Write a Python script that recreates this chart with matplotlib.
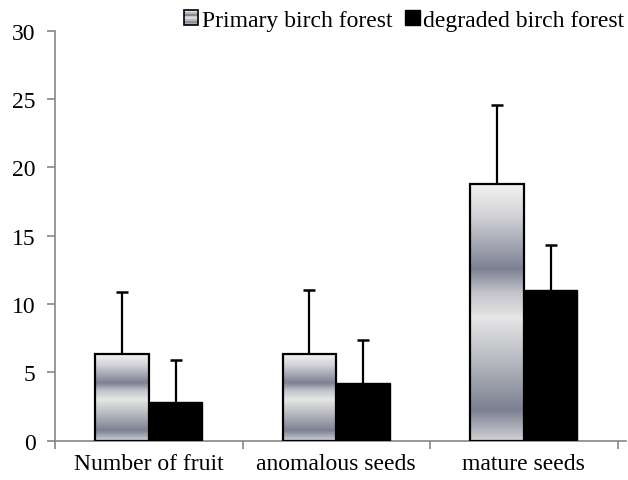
import numpy as np
import matplotlib
matplotlib.use("Agg")
import matplotlib.pyplot as plt
from matplotlib.colors import LinearSegmentedColormap
from matplotlib.patches import Rectangle
from matplotlib.legend_handler import HandlerBase

categories = ["Number of fruit", "anomalous seeds", "mature seeds"]
primary = [6.35, 6.35, 18.75]
primary_err = [4.55, 4.7, 5.85]
degraded = [2.8, 4.2, 11.05]
degraded_err = [3.1, 3.2, 3.25]
series_names = ["Primary birch forest", "degraded birch forest"]

plt.rcParams["font.family"] = "serif"
plt.rcParams["font.serif"] = ["Liberation Serif", "TeX Gyre Termes", "DejaVu Serif"]
plt.rcParams["font.size"] = 17

# excel-like banded grey gradient, top -> bottom
grad_cmap = LinearSegmentedColormap.from_list("birch", [
    (0.0, "#f2f2f2"), (0.12, "#d4d4d8"), (0.33, "#7c8092"), (0.42, "#c2c3ca"),
    (0.52, "#e6e6e6"), (0.70, "#b4b6be"), (0.88, "#7c8092"), (1.0, "#d2d2d6")])
grad = np.linspace(0, 1, 256).reshape(-1, 1)


class GradHandler(HandlerBase):
    def create_artists(self, legend, orig_handle, xdescent, ydescent,
                       width, height, fontsize, trans):
        s = min(width, height)
        x0 = xdescent + (width - s) / 2
        y0 = -ydescent + (height - s) / 2
        arts = []
        n = 8
        for i in range(n):
            c = grad_cmap(1 - (i + 0.5) / n)
            arts.append(Rectangle((x0, y0 + i * s / n), s, s / n, facecolor=c,
                                  edgecolor="none", transform=trans))
        arts.append(Rectangle((x0, y0), s, s, facecolor="none", edgecolor="black",
                              lw=1.2, transform=trans))
        return arts


class SquareHandler(HandlerBase):
    def create_artists(self, legend, orig_handle, xdescent, ydescent,
                       width, height, fontsize, trans):
        s = min(width, height)
        x0 = xdescent + (width - s) / 2
        y0 = -ydescent + (height - s) / 2
        return [Rectangle((x0, y0), s, s, facecolor="black", edgecolor="black",
                          transform=trans)]


fig = plt.figure(figsize=(6.28, 4.81), dpi=100)
ax = fig.add_axes([55 / 628, 1 - 441.7 / 481, 571 / 628, 410 / 481])

x = np.arange(len(categories))
w = 0.286

b1 = ax.bar(x - w / 2, primary, w, facecolor="none", edgecolor="black", lw=1.6, zorder=3)
for rect in b1:
    x0 = rect.get_x()
    h = rect.get_height()
    im = ax.imshow(grad, cmap=grad_cmap, extent=[x0, x0 + w, 0, h], origin="upper",
                   aspect="auto", zorder=2, interpolation="bilinear")
    im.set_clip_path(rect)
b2 = ax.bar(x + w / 2, degraded, w, color="black", edgecolor="black", zorder=3)

# upper error bars only
for xs, vals, errs in [(x - w / 2, primary, primary_err), (x + w / 2, degraded, degraded_err)]:
    tops = np.array(vals) + np.array(errs)
    ax.vlines(xs, vals, tops, color="black", lw=1.6, zorder=1)
    ax.hlines(tops, xs - 0.032, xs + 0.032, color="black", lw=1.8, zorder=1)

ax.set_xlim(-0.5, 2.545)
ax.set_ylim(0, 30)
ax.set_yticks(range(0, 31, 5))
ax.set_xticks([-0.5, 0.5, 1.5, 2.5])
ax.set_xticklabels([])
ax.set_xticks(x, minor=True)
ax.set_xticklabels(categories, minor=True)
ax.tick_params(axis="x", which="minor", length=0, pad=9)
ax.tick_params(axis="x", which="major", length=6, color="#868686", width=1.2)
ax.tick_params(axis="y", length=6, color="#868686", width=1.2, pad=8)
for s in ["top", "right"]:
    ax.spines[s].set_visible(False)
for s in ["left", "bottom"]:
    ax.spines[s].set_color("#868686")
    ax.spines[s].set_linewidth(1.2)

fig.legend([b1, b2], series_names, loc="upper right", bbox_to_anchor=(1.017, 1.007),
           ncol=2, frameon=False, handlelength=0.62, handleheight=0.62,
           handletextpad=0.15, columnspacing=0.55, borderaxespad=0.2,
           handler_map={b1: GradHandler(), b2: SquareHandler()})

fig.savefig("out.png", dpi=100)
